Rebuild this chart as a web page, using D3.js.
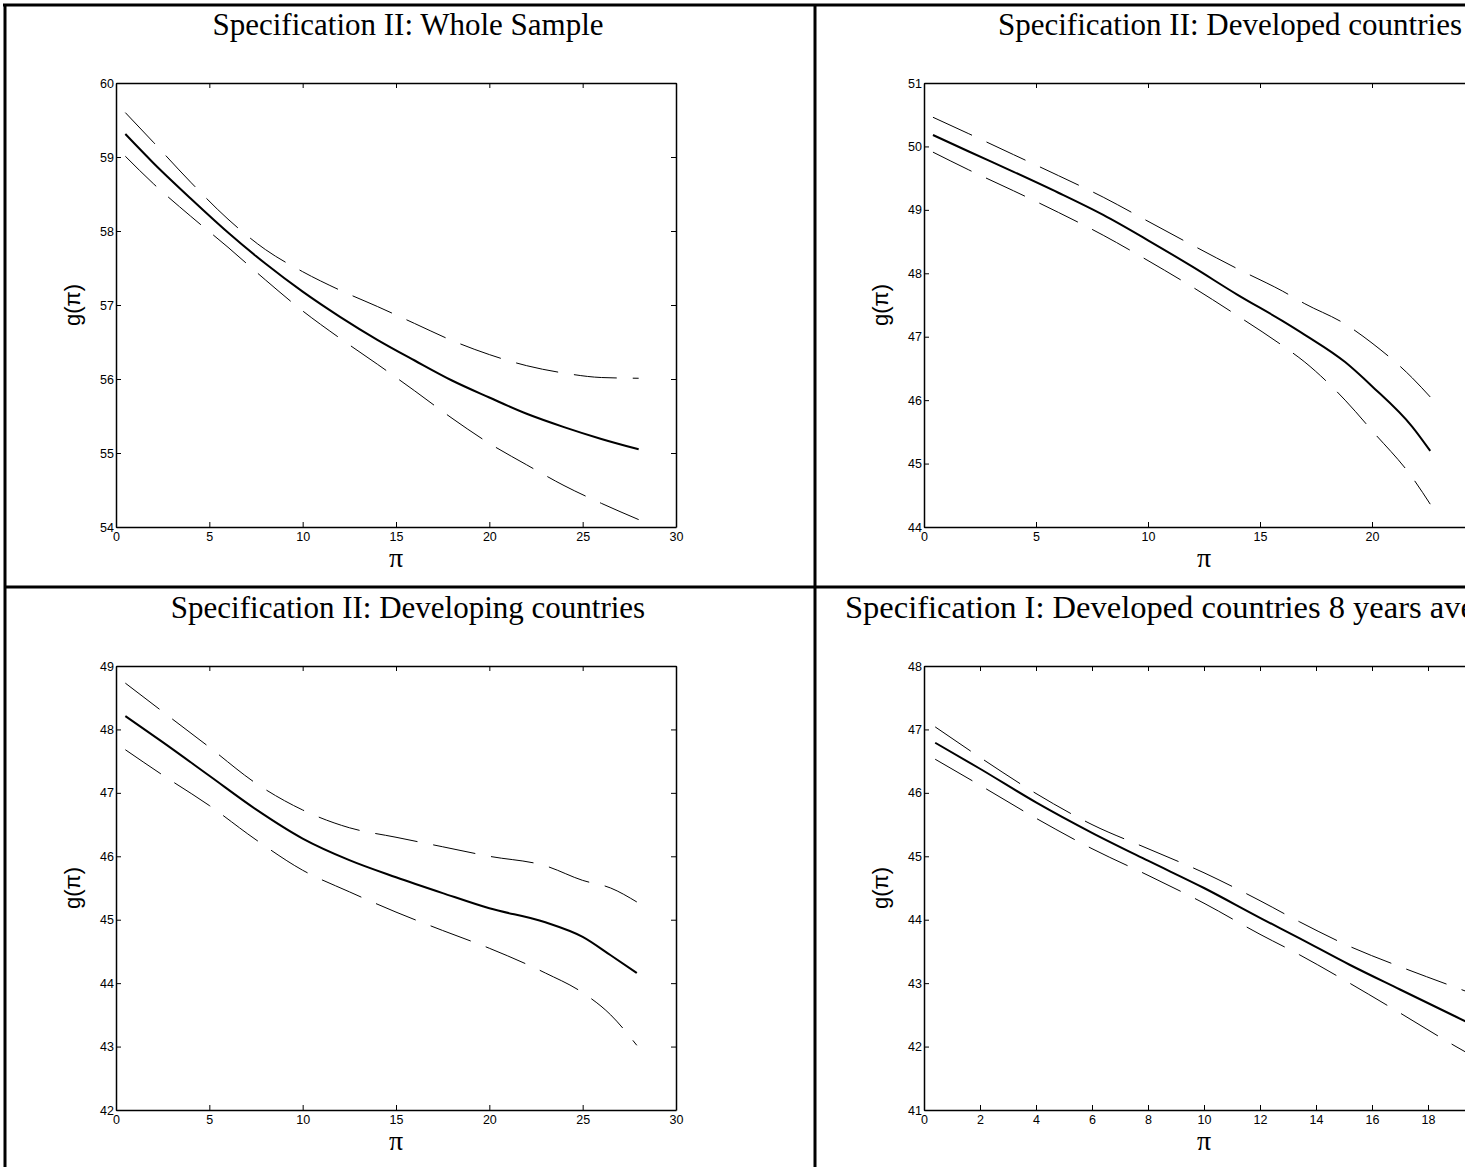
<!DOCTYPE html>
<html>
<head>
<meta charset="utf-8">
<script src="https://cdn.jsdelivr.net/npm/d3@7"></script>
<style>
  body { margin: 0; background: #fff; }
  svg { display: block; }
</style>
</head>
<body>
<div id="chart"></div>
<script>
// values (inflation pi vs growth g(pi))
const wholeX     = [0.5, 2, 4, 6, 8, 10, 12, 14, 16, 18, 20, 22, 24, 26, 28];
const wholeFit   = [59.31, 58.92, 58.44, 57.98, 57.56, 57.18, 56.84, 56.53, 56.25, 55.98, 55.75, 55.53, 55.35, 55.19, 55.05];
const wholeUpper = [59.60, 59.20, 58.66, 58.16, 57.75, 57.45, 57.20, 56.98, 56.75, 56.52, 56.33, 56.18, 56.08, 56.02, 56.01];
const wholeLower = [59.01, 58.64, 58.20, 57.78, 57.34, 56.92, 56.55, 56.20, 55.84, 55.47, 55.13, 54.84, 54.56, 54.32, 54.10];

const devX     = [0.4, 2, 4, 6, 8, 10, 12, 14, 16, 17, 18.8, 20, 21.8, 22.6];
const devFit   = [50.18, 49.92, 49.60, 49.27, 48.92, 48.52, 48.10, 47.66, 47.25, 47.03, 46.60, 46.22, 45.58, 45.20];
const devUpper = [50.46, 50.20, 49.87, 49.54, 49.20, 48.82, 48.44, 48.07, 47.72, 47.52, 47.20, 46.90, 46.35, 46.05];
const devLower = [49.91, 49.63, 49.30, 48.96, 48.60, 48.20, 47.78, 47.33, 46.86, 46.60, 46.00, 45.52, 44.78, 44.36];

const dvgX     = [0.5, 2.5, 5, 7.5, 10, 12.5, 15, 17.5, 20, 23, 25, 26.5, 27.9];
const dvgFit   = [48.21, 47.80, 47.27, 46.74, 46.28, 45.94, 45.67, 45.42, 45.18, 44.96, 44.73, 44.44, 44.16];
const dvgUpper = [48.73, 48.28, 47.72, 47.15, 46.73, 46.45, 46.30, 46.15, 46.00, 45.85, 45.62, 45.50, 45.28];
const dvgLower = [47.68, 47.28, 46.80, 46.26, 45.78, 45.44, 45.12, 44.83, 44.55, 44.16, 43.85, 43.50, 43.02];

const avgX     = [0.4, 2, 4, 6, 8, 10, 12, 13.4, 15.2, 17, 19, 19.8];
const avgFit   = [46.79, 46.38, 45.85, 45.37, 44.93, 44.50, 44.03, 43.71, 43.29, 42.90, 42.47, 42.30];
const avgUpper = [47.04, 46.56, 45.99, 45.50, 45.12, 44.74, 44.30, 43.97, 43.58, 43.26, 42.93, 42.80];
const avgLower = [46.53, 46.12, 45.60, 45.12, 44.70, 44.26, 43.77, 43.45, 43.00, 42.53, 42.00, 41.80];

// only the ticks that fall inside the (cropped) picture
const ticks30 = [0, 5, 10, 15, 20, 25, 30];
const ticks25 = [0, 5, 10, 15, 20];
const ticks20 = [0, 2, 4, 6, 8, 10, 12, 14, 16, 18];

const titles = [
    "Specification II: Whole Sample",
    "Specification II: Developed countries",
    "Specification II: Developing countries",
    "Specification I: Developed countries 8 years averages"
];

const W = 1465, H = 1167;

const svg = d3.select("#chart")
    .append("svg")
    .attr("width", W)
    .attr("height", H);

// table borders
const border = svg.append("g").attr("stroke", "black").attr("stroke-width", 3);
border.append("line").attr("x1", 3).attr("x2", W).attr("y1", 5).attr("y2", 5);
border.append("line").attr("x1", 5).attr("x2", 5).attr("y1", 4).attr("y2", H);
border.append("line").attr("x1", 815).attr("x2", 815).attr("y1", 4).attr("y2", H);
border.append("line").attr("x1", 4).attr("x2", W).attr("y1", 587).attr("y2", 587);

const drawPanel = (p) =>
{
    const width = 560, height = 444;
    const xScale = d3.scaleLinear().domain(p.xDomain).range([0, width]);
    const yScale = d3.scaleLinear().domain(p.yDomain).range([height, 0]);
    const yTicks = d3.range(p.yDomain[0], p.yDomain[1] + 1);

    svg.append("text")
        .attr("x", p.titleX)
        .attr("y", p.top - 48)
        .attr("text-anchor", p.titleAnchor)
        .attr("font-family", "'Liberation Serif', 'Times New Roman', serif")
        .attr("font-size", p.titleSize)
        .text(p.title);

    const g = svg.append("g")
        .attr("transform", `translate(${p.left},${p.top})`);

    const styleAxis = (sel) =>
    {
        sel.select(".domain").attr("stroke-width", 1.5);
        sel.selectAll(".tick line").attr("stroke-width", 1);
        sel.selectAll("text")
            .attr("font-family", "'Liberation Sans', Arial, sans-serif")
            .attr("font-size", 12.5)
            .attr("fill", "black");
    };

    g.append("g")
        .attr("transform", `translate(0,${height})`)
        .call(d3.axisBottom(xScale).tickValues(p.xTicks).tickSizeInner(-5).tickSizeOuter(0).tickPadding(5).tickFormat(d3.format("d")))
        .call(styleAxis);
    g.append("g")
        .call(d3.axisTop(xScale).tickValues(p.xTicks).tickSizeInner(-5).tickSizeOuter(0).tickFormat(""))
        .call(styleAxis);
    g.append("g")
        .call(d3.axisLeft(yScale).tickValues(yTicks).tickSizeInner(-5).tickSizeOuter(0).tickPadding(2).tickFormat(d3.format("d")))
        .call(styleAxis);
    g.append("g")
        .attr("transform", `translate(${width},0)`)
        .call(d3.axisRight(yScale).tickValues(yTicks).tickSizeInner(-5).tickSizeOuter(0).tickFormat(""))
        .call(styleAxis);

    g.append("text")
        .attr("x", width / 2)
        .attr("y", height + 40)
        .attr("text-anchor", "middle")
        .attr("font-family", "'Liberation Serif', 'Times New Roman', serif")
        .attr("font-size", 28)
        .text("\u03c0");

    g.append("text")
        .attr("transform", `translate(-36,${height / 2}) rotate(-90)`)
        .attr("text-anchor", "middle")
        .attr("font-family", "'Liberation Sans', Arial, sans-serif")
        .attr("font-size", 22)
        .text("g(\u03c0)");

    const line = d3.line()
        .x((d, i) => xScale(p.x[i]))
        .y((d) => yScale(d))
        .curve(d3.curveMonotoneX);

    [p.upper, p.lower].forEach((s) =>
    {
        g.append("path")
            .datum(s)
            .attr("fill", "none")
            .attr("stroke", "black")
            .attr("stroke-width", 1)
            .attr("stroke-dasharray", "43,16")
            .attr("d", line);
    });

    g.append("path")
        .datum(p.fit)
        .attr("fill", "none")
        .attr("stroke", "black")
        .attr("stroke-width", 2)
        .attr("d", line);
};

drawPanel({title: titles[0], titleX: 408, titleAnchor: "middle", titleSize: 31, left: 116, top: 83,
    xDomain: [0, 30], xTicks: ticks30, yDomain: [54, 60],
    x: wholeX, fit: wholeFit, upper: wholeUpper, lower: wholeLower});

drawPanel({title: titles[1], titleX: 1230, titleAnchor: "middle", titleSize: 31, left: 924, top: 83,
    xDomain: [0, 25], xTicks: ticks25, yDomain: [44, 51],
    x: devX, fit: devFit, upper: devUpper, lower: devLower});

drawPanel({title: titles[2], titleX: 408, titleAnchor: "middle", titleSize: 31, left: 116, top: 666,
    xDomain: [0, 30], xTicks: ticks30, yDomain: [42, 49],
    x: dvgX, fit: dvgFit, upper: dvgUpper, lower: dvgLower});

drawPanel({title: titles[3], titleX: 845, titleAnchor: "start", titleSize: 32.5, left: 924, top: 666,
    xDomain: [0, 20], xTicks: ticks20, yDomain: [41, 48],
    x: avgX, fit: avgFit, upper: avgUpper, lower: avgLower});
</script>
</body>
</html>
